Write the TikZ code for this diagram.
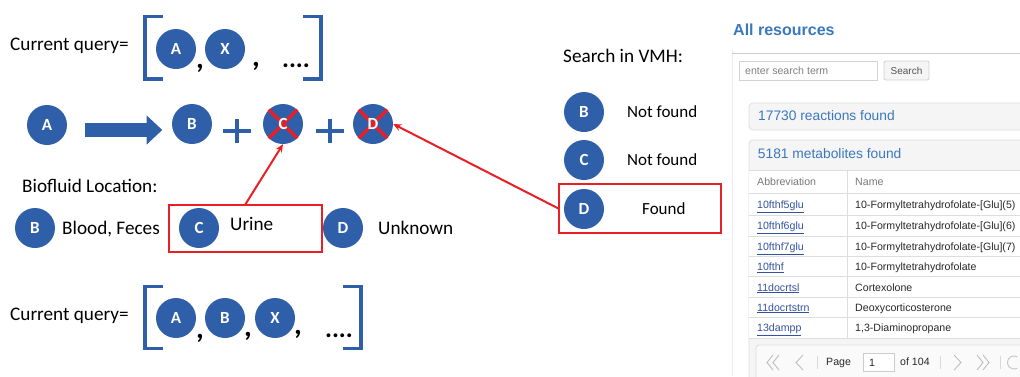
\documentclass[tikz,border=0pt]{standalone}
\usepackage{fontspec}
\setmainfont{Carlito}
\newfontfamily\arialf{Liberation Sans}
\usetikzlibrary{arrows.meta}
\definecolor{vblue}{RGB}{47,95,168}
\definecolor{vred}{RGB}{232,32,38}
\definecolor{webblue}{RGB}{58,120,190}
\definecolor{linkblue}{RGB}{52,82,160}
\definecolor{pbg}{RGB}{245,245,245}
\definecolor{pborder}{RGB}{221,221,221}
\definecolor{gtext}{RGB}{120,120,120}
\definecolor{ttext}{RGB}{40,40,40}
\begin{document}
\begin{tikzpicture}[x=1pt,y=-1pt,
 ball/.style={circle,fill=vblue,minimum size=40pt,inner sep=0pt,text=white,font=\bfseries\fontsize{17}{17}\selectfont},
 balltxt/.style={text=white,font=\bfseries\fontsize{17}{17}\selectfont,inner sep=0pt},
 lbl/.style={anchor=base west,font=\fontsize{19.2}{20}\selectfont,inner sep=0pt},
 slbl/.style={anchor=base west,font=\fontsize{17}{18}\selectfont,inner sep=0pt},
 comma/.style={anchor=base,font=\bfseries\fontsize{30}{30}\selectfont,inner sep=0pt},
 dots/.style={anchor=base,font=\bfseries\fontsize{26}{26}\selectfont,inner sep=0pt},
 brk/.style={draw=vblue,line width=3.2pt},
 plussign/.style={draw=vblue,line width=4pt},
 crossx/.style={draw=vred,line width=3.2pt},
 redbox/.style={draw=vred,line width=2pt},
 redarrow/.style={draw=vred,line width=2pt,-{Stealth[length=8pt,width=7pt]}},
 bigarrow/.style={draw=vblue,line width=14.4pt,-{Triangle[length=15.6pt,width=28pt]}},
 web/.style={font=\arialf\fontsize{10.6}{12}\selectfont,inner sep=0pt},
 wlink/.style={web,anchor=base west,text=linkblue},
 wname/.style={web,anchor=base west,text=ttext},
 chev/.style={draw=gray!50,line width=0.9pt},
 sepbar/.style={draw=gray!30,line width=0.8pt}
]
\useasboundingbox (0,0) rectangle (1020,376);

% ---------- top query ----------
\node[lbl] (q1) at (10,50) {Current query=};
\draw[brk] (163,16.5) -- (145,16.5) -- (145,79) -- (163,79);
\draw[brk] (303,16.5) -- (321,16.5) -- (321,79) -- (303,79);
\node[ball] (qA) at (176,49) {A};
\node[ball] (qX) at (225,49) {X};
\node[comma] (c1) at (200,68) {,};
\node[comma] (c2) at (256,66) {,};
\node[dots] (d1) at (296,67) {....};

% ---------- reaction row ----------
\node[ball] (A) at (47,125) {A};
\node[ball] (B) at (192,124) {B};
\node[ball] (Cc) at (283,124) {};
\node[ball] (Dc) at (373,124) {};
\draw[bigarrow] ([xshift=18pt,yshift=-5pt]A.east) -- ([xshift=-9.5pt,yshift=-6pt]B.west);
\coordinate (p1) at (237,131);
\coordinate (p2) at (330,131);
\draw[plussign] ([xshift=-14pt]p1) -- ([xshift=14pt]p1);
\draw[plussign] ([yshift=-12pt]p1) -- ([yshift=12pt]p1);
\draw[plussign] ([xshift=-14pt]p2) -- ([xshift=14pt]p2);
\draw[plussign] ([yshift=-12pt]p2) -- ([yshift=12pt]p2);
\draw[crossx] (Cc.north west) -- (Cc.south east);
\draw[crossx] (Cc.north east) -- (Cc.south west);
\draw[crossx] (Dc.north west) -- (Dc.south east);
\draw[crossx] (Dc.north east) -- (Dc.south west);
\node[balltxt] at (Cc) {C};
\node[balltxt] at (Dc) {D};

% ---------- biofluid ----------
\node[lbl] (bio) at (22,192.7) {Biofluid Location:};
\node[ball] (bB) at (35,228) {B};
\node[lbl] (bBt) at (62,234) {Blood, Feces};
\node[ball] (bC) at (199,228) {C};
\node[lbl] (bCt) at (230,230.7) {Urine};
\node[ball] (bD) at (343,228) {D};
\node[lbl] (bDt) at (378,234) {Unknown};
\node[redbox,minimum width=152.5pt,minimum height=46.5pt,inner sep=0pt] (ubox) at (245.5,228.4) {};
\draw[redarrow] (ubox.north) -- (Cc.south);

% ---------- bottom query ----------
\node[lbl] (q2) at (10,320) {Current query=};
\draw[brk] (163,286.5) -- (145,286.5) -- (145,348.5) -- (163,348.5);
\draw[brk] (343,286.5) -- (361,286.5) -- (361,348.5) -- (343,348.5);
\node[ball] (rA) at (176,318) {A};
\node[ball] (rB) at (225,318) {B};
\node[ball] (rX) at (275,318) {X};
\node[comma] (e1) at (200,338) {,};
\node[comma] (e2) at (248,336) {,};
\node[comma] (e3) at (298,334) {,};
\node[dots] (d2) at (339,337) {....};

% ---------- search in VMH ----------
\node[lbl] (svmh) at (563,62.3) {Search in VMH:};
\node[ball] (sB) at (584,112) {B};
\node[slbl] (sBt) at (627,117.3) {Not found};
\node[ball] (sC) at (584,160) {C};
\node[slbl] (sCt) at (627,165.7) {Not found};
\node[ball] (sD) at (584,209) {D};
\node[slbl] (sDt) at (642,214.3) {Found};
\node[redbox,minimum width=161.5pt,minimum height=48.5pt,inner sep=0pt] (fbox) at (640.2,208.5) {};
\draw[redarrow] (fbox.west) -- (Dc.east);

% ---------- web screenshot ----------
\draw[gray!15,line width=0.8pt] (732,50) -- (732,376);
\node[anchor=base west,inner sep=0pt,text=webblue,font=\arialf\bfseries\fontsize{16}{18}\selectfont] (title) at (733,35.7) {All resources};
\draw[gray!40,line width=1.5pt] (732,53.3) -- (1020,53.3);
\draw[gray!35,line width=0.8pt] (739,61) rectangle (877,80);
\node[web,anchor=base west,text=gray] (stxt) at (745,74.5) {enter search term};
\draw[gray!35,fill=gray!8,line width=0.8pt,rounded corners=2pt] (884,61) rectangle (929,80);
\node[web,text=ttext!80,font=\arialf\fontsize{10}{12}\selectfont] (sbtn) at (906.5,70.5) {Search};

\draw[pborder,fill=pbg,line width=0.8pt,rounded corners=4pt] (749,103) rectangle (1030,130);
\node[anchor=base west,inner sep=0pt,text=webblue,font=\arialf\fontsize{13.8}{15}\selectfont] (rtxt) at (758,120.5) {17730 reactions found};

\draw[pborder,fill=pbg,line width=0.8pt,rounded corners=4pt] (749,140) rectangle (1030,400);
\fill[white] (749.4,170) rectangle (1030,338.3);
\node[anchor=base west,inner sep=0pt,text=webblue,font=\arialf\fontsize{13.8}{15}\selectfont] (mtxt) at (757.7,158.5) {5181 metabolites found};
\foreach \yy in {170,193.3,215,236,256.7,276.7,297.3,317.3,338.3}
  \draw[pborder,line width=0.8pt] (749,\yy) -- (1030,\yy);
\draw[pborder,line width=0.8pt] (847,170) -- (847,338.3);
\node[web,anchor=base west,text=gtext] (h1) at (757,185.8) {Abbreviation};
\node[web,anchor=base west,text=gtext] (h2) at (855,185.8) {Name};
\node[wlink] (l1) at (757,208.8) {\underline{10fthf5glu}};
\node[wname] (n1) at (855,208.8) {10-Formyltetrahydrofolate-[Glu](5)};
\node[wlink] (l2) at (757,229.5) {\underline{10fthf6glu}};
\node[wname] (n2) at (855,229.5) {10-Formyltetrahydrofolate-[Glu](6)};
\node[wlink] (l3) at (757,250.5) {\underline{10fthf7glu}};
\node[wname] (n3) at (855,250.5) {10-Formyltetrahydrofolate-[Glu](7)};
\node[wlink] (l4) at (757,270.5) {\underline{10fthf}};
\node[wname] (n4) at (855,270.5) {10-Formyltetrahydrofolate};
\node[wlink] (l5) at (757,291.1) {\underline{11docrtsl}};
\node[wname] (n5) at (855,291.1) {Cortexolone};
\node[wlink] (l6) at (757,311.1) {\underline{11docrtstrn}};
\node[wname] (n6) at (855,311.1) {Deoxycorticosterone};
\node[wlink] (l7) at (757,331.5) {\underline{13dampp}};
\node[wname] (n7) at (855,331.5) {1,3-Diaminopropane};

% pagination
\draw[pborder,fill=gray!4,line width=0.8pt,rounded corners=3pt] (756,345) rectangle (1030,390);
\draw[chev] (773,355) -- (767,362.5) -- (773,370);
\draw[chev] (779,355) -- (773,362.5) -- (779,370);
\draw[chev] (803,355) -- (796,362.5) -- (803,370);
\draw[sepbar] (817,356) -- (817,369);
\node[wname] (pg) at (826,365.5) {Page};
\draw[gray!40,fill=white,line width=0.8pt] (863,353) rectangle (894,371);
\node[wname] (pgn) at (869,366) {1};
\node[wname] (pgof) at (900,365.5) {of 104};
\draw[sepbar] (940,356) -- (940,369);
\draw[chev] (954,355) -- (961,362.5) -- (954,370);
\draw[chev] (977,355) -- (983,362.5) -- (977,370);
\draw[chev] (983,355) -- (989,362.5) -- (983,370);
\draw[sepbar] (1000,356) -- (1000,369);
\draw[gray!45,line width=0.9pt] (1017.25,368.1) arc[start angle=-60,end angle=-300,radius=6.5pt];
\end{tikzpicture}
\end{document}
